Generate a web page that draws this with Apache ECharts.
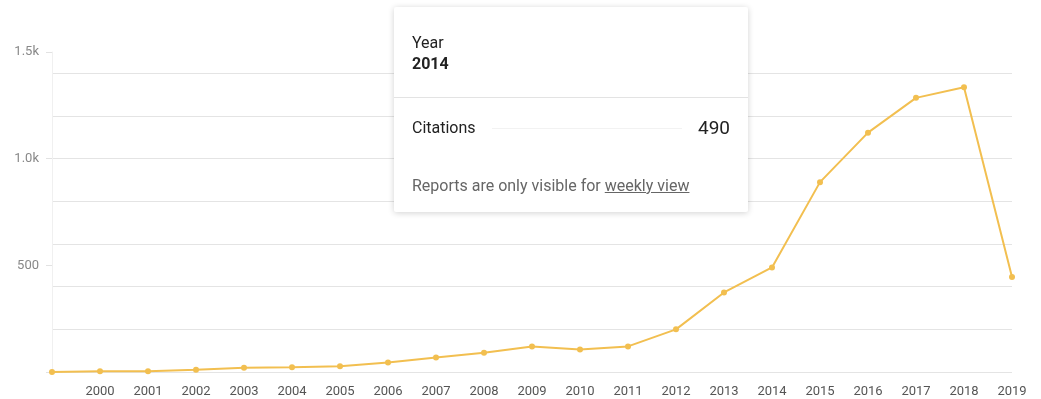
<!DOCTYPE html>
<html>
<head>
<meta charset="utf-8">
<script src="https://cdn.jsdelivr.net/npm/echarts@6/dist/echarts.min.js"></script>
<style>
  html, body { margin: 0; padding: 0; background: #fff; }
  #myChart { width: 1041px; height: 399px; }
</style>
</head>
<body>
<div id="myChart"></div>
<script type="text/javascript">
// years on the x axis (first one has no label in the picture)
var years = ['1999', '2000', '2001', '2002', '2003', '2004', '2005', '2006', '2007', '2008', '2009',
  '2010', '2011', '2012', '2013', '2014', '2015', '2016', '2017', '2018', '2019']
// citations per year
var citations = [0, 3, 3, 10, 20, 22, 27, 45, 68, 90, 120, 105, 120, 200, 373, 490, 890, 1122, 1285, 1335, 445]
var yTicks = { min: 0, max: 1500, labelStep: 500, gridStep: 200 }
var tipIndex = 15

var lineColor = '#f2bf50'

let myChart = echarts.init(document.getElementById('myChart'))

function tipHtml(year, value) {
  return '<div style="width:354px;font-family:Roboto,sans-serif;color:#222;">' +
    '<div style="padding:25px 18px 23px 18px;border-bottom:1px solid #e3e3e3;">' +
      '<div style="font-size:16px;line-height:21px;">Year</div>' +
      '<div style="font-size:16px;line-height:21px;font-weight:bold;">' + year + '</div>' +
    '</div>' +
    '<div style="padding:19px 18px 0 18px;display:flex;justify-content:space-between;align-items:center;line-height:22px;">' +
      '<span style="font-size:16px;">Citations</span>' +
      '<span style="flex:1;margin:0 16px;border-top:1px solid #f2f2f2;"></span>' +
      '<span style="font-size:19px;">' + value + '</span>' +
    '</div>' +
    '<div style="padding:37px 18px 17px 18px;font-size:16px;line-height:19px;color:#666;">Reports are only visible for ' +
      '<span style="text-decoration:underline;">weekly view</span></div>' +
    '</div>'
}

myChart.setOption({
  animation: false,
  grid: { left: 52, right: 29, top: 52, bottom: 27 },
  tooltip: {
    trigger: 'item',
    triggerOn: 'none',
    alwaysShowContent: true,
    transitionDuration: 0,
    padding: 0,
    borderWidth: 0,
    backgroundColor: '#fff',
    extraCssText: 'box-shadow:0 1px 6px rgba(0,0,0,0.18);border-radius:2px;',
    position: function () { return [394, 7] },
    formatter: function (p) { return tipHtml(p.name, p.value) }
  },
  xAxis: {
    type: 'category',
    boundaryGap: false,
    data: years,
    axisLine: { show: false },
    axisTick: { show: false },
    axisLabel: {
      interval: 0,
      margin: 13,
      color: '#555',
      fontSize: 13,
      fontFamily: 'Roboto',
      formatter: function (v, i) { return i === 0 ? '' : v }
    }
  },
  yAxis: [{
    type: 'value',
    min: yTicks.min,
    max: yTicks.max,
    interval: yTicks.labelStep,
    axisLine: { show: false },
    axisTick: { show: true, length: 6, lineStyle: { color: '#e2e2e2' } },
    splitLine: { show: false },
    axisLabel: {
      color: '#888',
      fontSize: 13,
      fontFamily: 'Roboto',
      margin: 13,
      formatter: function (v) {
        if (v === 0) return ''
        if (v >= 1000) return (v / 1000).toFixed(1) + 'k'
        return v
      }
    }
  }, {
    type: 'value',
    position: 'left',
    min: yTicks.min,
    max: yTicks.max,
    interval: yTicks.gridStep,
    axisLabel: { show: false },
    axisTick: { show: false },
    axisLine: { show: true, lineStyle: { color: '#f0f0f0' } },
    splitLine: { show: true, showMaxLine: false, lineStyle: { color: '#e4e4e4', width: 1 } }
  }],
  series: [{
    type: 'line',
    data: citations,
    yAxisIndex: 0,
    symbol: 'circle',
    symbolSize: 6,
    lineStyle: { color: lineColor, width: 2 },
    itemStyle: { color: lineColor },
    emphasis: { disabled: true }
  }]
})

myChart.dispatchAction({ type: 'showTip', seriesIndex: 0, dataIndex: tipIndex })
</script>
</body>
</html>
